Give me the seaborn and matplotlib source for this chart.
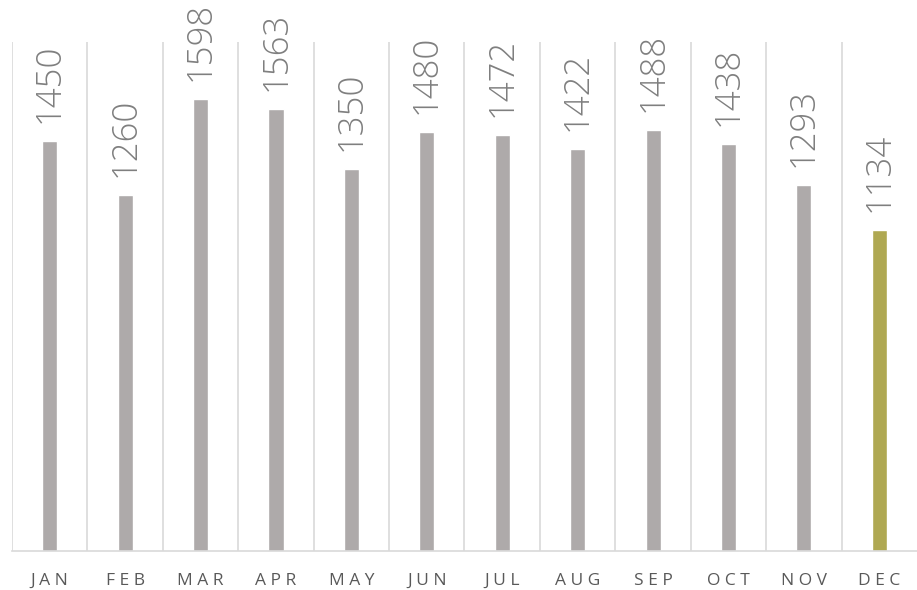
import matplotlib
matplotlib.use("Agg")
from matplotlib import pyplot as plt
import seaborn as sns

months = ["JAN", "FEB", "MAR", "APR", "MAY", "JUN", "JUL", "AUG", "SEP", "OCT", "NOV", "DEC"]
sales = [1450, 1260, 1598, 1563, 1350, 1480, 1472, 1422, 1488, 1438, 1293, 1134]
bar_colors = ["#aeaaaa"] * 11 + ["#afa852"]

sns.set_style("white")
plt.rcParams["font.family"] = ["Open Sans", "DejaVu Sans"]

fig = plt.figure(figsize=(9.17, 5.9), dpi=100)
ax = fig.add_axes([12 / 917, 39 / 590, 905 / 917, 509 / 590])

sns.barplot(x=months, y=sales, hue=months, palette=bar_colors, width=0.2,
            legend=False, ax=ax, saturation=1)

for c in ax.containers:
    ax.bar_label(c, rotation=90, padding=13, fontsize=25, fontweight="light",
                 color="#7f7f7f", clip_on=False)

ax.set_ylim(0, 1800)
ax.set_xlim(-0.5, 11.5)
ax.set_yticks([])
ax.set_xticks(range(len(months)))
ax.set_xticklabels([" ".join(m) for m in months], fontsize=12.5, color="#595959")
ax.tick_params(axis="x", length=0, pad=16)
for x in range(len(months)):
    ax.axvline(x - 0.5, color="#d9d9d9", lw=1.2, zorder=0)
for s in ["top", "right", "left"]:
    ax.spines[s].set_visible(False)
ax.spines["bottom"].set_color("#d9d9d9")
ax.spines["bottom"].set_linewidth(1.2)
ax.set_xlabel("")
ax.set_ylabel("")

fig.savefig("out.png", dpi=100)
